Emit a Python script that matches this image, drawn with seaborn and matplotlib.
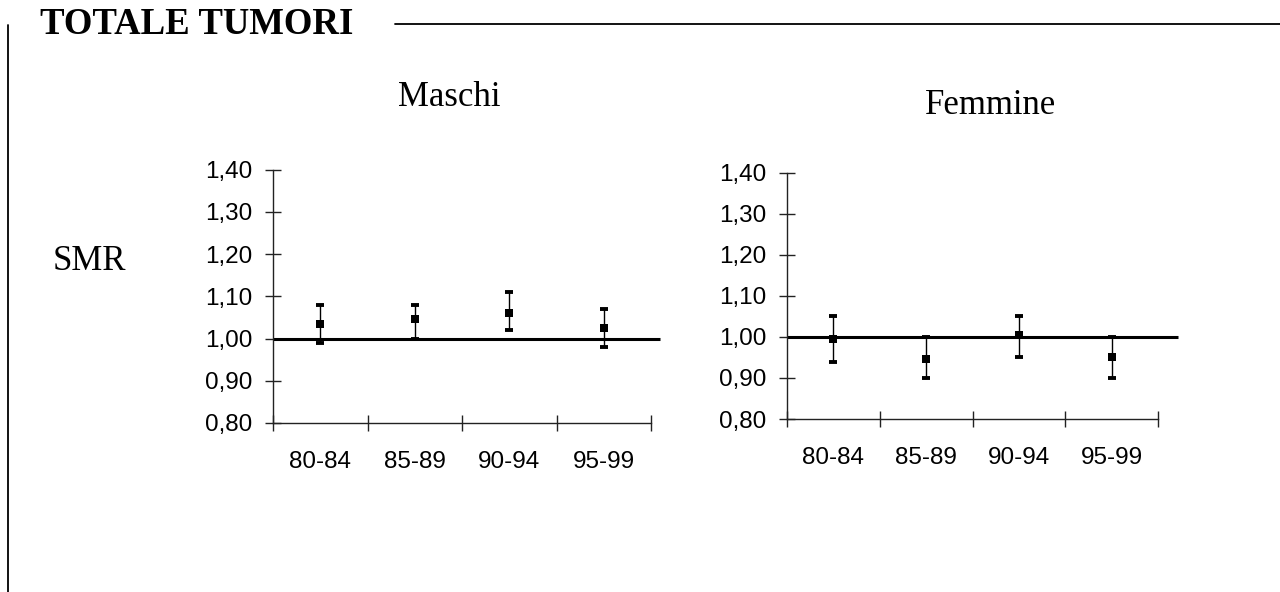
import numpy as np
import pandas as pd
import matplotlib
matplotlib.use("Agg")
import matplotlib.pyplot as plt
from matplotlib.lines import Line2D
from matplotlib.ticker import FuncFormatter, FixedLocator, NullFormatter
import seaborn as sns

# ---- data ----
periods = ["80-84", "85-89", "90-94", "95-99"]
maschi_smr = [1.035, 1.045, 1.06, 1.025]
maschi_lo = [0.99, 1.00, 1.02, 0.98]
maschi_hi = [1.08, 1.08, 1.11, 1.07]
femmine_smr = [0.995, 0.945, 1.005, 0.95]
femmine_lo = [0.94, 0.90, 0.95, 0.90]
femmine_hi = [1.05, 1.00, 1.05, 1.00]
yticks = [0.80, 0.90, 1.00, 1.10, 1.20, 1.30, 1.40]
title = "TOTALE TUMORI"
panel_titles = ["Maschi", "Femmine"]
ylabel = "SMR"

sns.set_theme(style="white")
plt.rcParams["font.family"] = ["Liberation Sans", "DejaVu Sans"]
plt.rcParams["text.color"] = "black"
plt.rcParams["axes.labelcolor"] = "black"
plt.rcParams["xtick.color"] = "black"
plt.rcParams["ytick.color"] = "black"

W, H = 1280, 592
fig = plt.figure(figsize=(W / 100, H / 100), dpi=100)

def px_axes(left, right, bottom, top):
    return fig.add_axes([left / W, 1 - bottom / H, (right - left) / W, (bottom - top) / H])

serif = ["Liberation Serif", "DejaVu Serif"]

def draw_panel(ax, smr, lo, hi, line_end):
    df = pd.DataFrame({"pos": np.arange(len(periods)), "smr": smr, "lo": lo, "hi": hi})
    ax.hlines(1.0, -0.5, line_end, color="black", lw=2.2, clip_on=False, zorder=2)
    ax.errorbar(df["pos"], df["smr"],
                yerr=[df["smr"] - df["lo"], df["hi"] - df["smr"]],
                fmt="none", ecolor="black", elinewidth=1.0, capsize=3.2, capthick=2.8,
                zorder=3, clip_on=False)
    sns.scatterplot(data=df, x="pos", y="smr", marker="s", s=26, color="black",
                    linewidth=0, ax=ax, zorder=4, clip_on=False)
    ax.set_xlim(-0.5, len(periods) - 0.5)
    ax.set_ylim(0.80, 1.40)
    ax.set_xlabel("")
    ax.set_ylabel("")
    for s in ["top", "right"]:
        ax.spines[s].set_visible(False)
    for s in ["left", "bottom"]:
        ax.spines[s].set_color("#222222")
        ax.spines[s].set_linewidth(1.0)
    ax.set_yticks(yticks)
    ax.yaxis.set_major_formatter(FuncFormatter(lambda v, p: f"{v:.2f}".replace(".", ",")))
    ax.tick_params(axis="y", direction="inout", length=11, width=1, color="#222222",
                   pad=9.5, labelsize=17.5, labelcolor="black", left=True)
    ax.xaxis.set_major_locator(FixedLocator(np.arange(len(periods) + 1) - 0.5))
    ax.xaxis.set_major_formatter(NullFormatter())
    ax.set_xticks(np.arange(len(periods)), labels=periods, minor=True)
    ax.tick_params(axis="x", which="major", direction="inout", length=11, width=1,
                   color="#222222", bottom=True)
    ax.tick_params(axis="x", which="minor", length=0, pad=20, labelsize=17.5,
                   labelcolor="black", bottom=True)
    ax.set_facecolor("none")

ax1 = px_axes(273, 651, 423, 169.5)
draw_panel(ax1, maschi_smr, maschi_lo, maschi_hi, 3.6)
ax2 = px_axes(787, 1158, 419, 172.7)
draw_panel(ax2, femmine_smr, femmine_lo, femmine_hi, 3.72)

# panel titles
fig.text(449 / W, 1 - 97 / H, panel_titles[0], family=serif, fontsize=25,
         ha="center", va="center", color="black")
fig.text(991 / W, 1 - 105 / H, panel_titles[1], family=serif, fontsize=25,
         ha="center", va="center", color="black")
fig.text(53 / W, 1 - 262 / H, ylabel, family=serif, fontsize=25,
         ha="left", va="center", color="black")

# main title and frame
fig.text(40 / W, 1 - 24 / H, title, family=serif, fontsize=26.5, fontweight="bold",
         ha="left", va="center", color="black")
fig.add_artist(Line2D([395 / W, 1.0], [1 - 24 / H, 1 - 24 / H], color="black", lw=1.3))
fig.add_artist(Line2D([7.5 / W, 7.5 / W], [1 - 25 / H, 0.0], color="black", lw=1.3))

fig.savefig("out.png", dpi=100)
